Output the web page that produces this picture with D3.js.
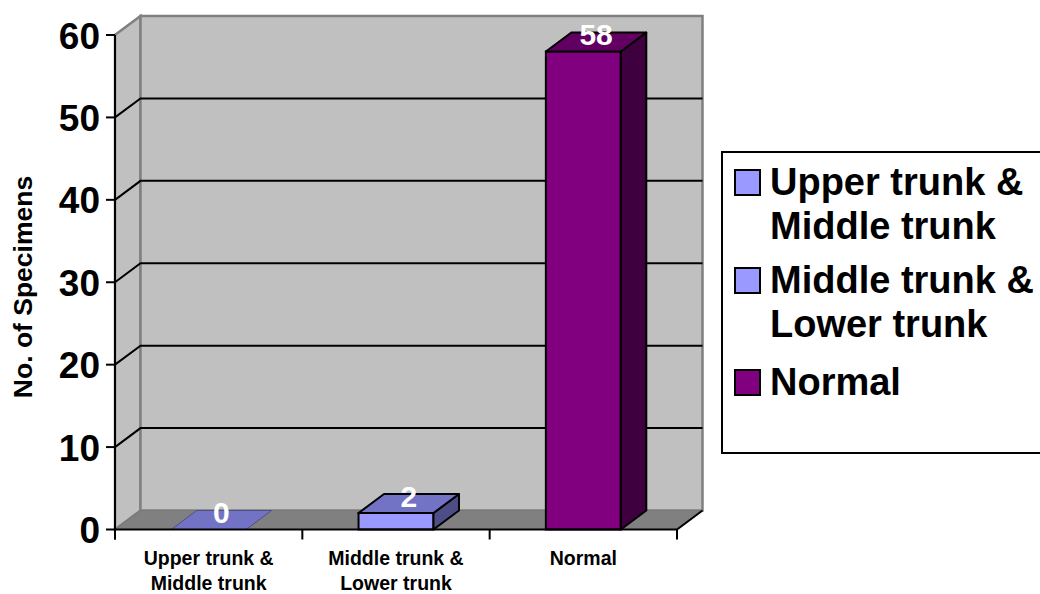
<!DOCTYPE html>
<html>
<head>
<meta charset="utf-8">
<script src="https://cdn.jsdelivr.net/npm/d3@7"></script>
<style>
    body { margin: 0; background: #fff; }
    text { font-family: Arial, "Liberation Sans", sans-serif; font-weight: bold; }
</style>
</head>
<body>
<script>
//data
var categories = ["Upper trunk & Middle trunk", "Middle trunk & Lower trunk", "Normal"];
var tickLabels = [["Upper trunk &", "Middle trunk"], ["Middle trunk &", "Lower trunk"], ["Normal"]];
var values = [0, 2, 58];
var yTicks = [0, 10, 20, 30, 40, 50, 60];
var legendLabels = [["Upper trunk &", "Middle trunk"], ["Middle trunk &", "Lower trunk"], ["Normal"]];
var yTitle = "No. of Specimens";

//colours: front, top, side
var fills = [
    ["#9999ff", "#7373c6", "#4d4d88"],
    ["#9999ff", "#7373c6", "#4d4d88"],
    ["#800080", "#620062", "#3f003f"]
];

var W = 1040, H = 594;
var m = { left: 115, right: 677, top: 35, bottom: 529.5 };
var dx = 25.5, dy = -19; //depth offset

//scales
var x = d3.scaleBand()
    .domain(d3.range(categories.length))
    .range([m.left, m.right])
    .paddingInner(0.6)
    .paddingOuter(0.3);
var y = d3.scaleLinear()
    .domain([0, 60])
    .range([m.bottom, m.top]);

var svg = d3.select("body")
    .append("svg")
    .attr("width", W)
    .attr("height", H);

function pts(a) {
    return a.map(function (p) { return p.join(","); }).join(" ");
}

var y0 = y(0), yTop = y(60);

//side wall
svg.append("polygon")
    .attr("points", pts([[m.left, y0], [m.left, yTop], [m.left + dx, yTop + dy], [m.left + dx, y0 + dy]]))
    .attr("fill", "#c0c0c0")
    .attr("stroke", "#808080")
    .attr("stroke-width", 2.5);

//back wall
svg.append("rect")
    .attr("x", m.left + dx)
    .attr("y", yTop + dy)
    .attr("width", m.right - m.left)
    .attr("height", y0 - yTop)
    .attr("fill", "#c0c0c0")
    .attr("stroke", "#808080")
    .attr("stroke-width", 2.5);

//floor
svg.append("polygon")
    .attr("points", pts([[m.left, y0], [m.right, y0], [m.right + dx, y0 + dy], [m.left + dx, y0 + dy]]))
    .attr("fill", "#808080")
    .attr("stroke", "#777")
    .attr("stroke-width", 1);

//gridlines
svg.append("g").selectAll(".grid")
    .data(yTicks.filter(function (d) { return d > 0 && d < 60; }))
    .enter().append("polyline")
    .attr("points", function (d) {
        return pts([[m.left, y(d)], [m.left + dx, y(d) + dy], [m.right + dx, y(d) + dy]]);
    })
    .attr("fill", "none")
    .attr("stroke", "#000")
    .attr("stroke-width", 2);

//bars
var bars = svg.append("g").selectAll(".bar")
    .data(values)
    .enter().append("g")
    .attr("class", "bar");

bars.each(function (v, i) {
    var g = d3.select(this);
    var x0 = x(i), w = x.bandwidth(), yt = y(v);
    if (v > 0) {
        g.append("rect")
            .attr("x", x0)
            .attr("y", yt)
            .attr("width", w)
            .attr("height", y0 - yt)
            .attr("fill", fills[i][0])
            .attr("stroke", "#000")
            .attr("stroke-width", 2);
        g.append("polygon")
            .attr("points", pts([[x0 + w, yt], [x0 + w, y0], [x0 + w + dx, y0 + dy], [x0 + w + dx, yt + dy]]))
            .attr("fill", fills[i][2])
            .attr("stroke", "#000")
            .attr("stroke-width", 2)
            .attr("stroke-linejoin", "round");
    }
    g.append("polygon")
        .attr("points", pts([[x0, yt], [x0 + w, yt], [x0 + w + dx, yt + dy], [x0 + dx, yt + dy]]))
        .attr("fill", fills[i][1])
        .attr("stroke", v > 0 ? "#000" : "#505080")
        .attr("stroke-width", v > 0 ? 2 : 1)
        .attr("stroke-linejoin", "round");
});

//value labels
svg.append("g").selectAll(".valueLabel")
    .data(values)
    .enter().append("text")
    .text(function (d) { return d; })
    .attr("x", function (d, i) { return x(i) + x.bandwidth() / 2 + dx / 2; })
    .attr("y", function (d) { return y(d) + dy + 12.5; })
    .attr("text-anchor", "middle")
    .attr("fill", "#fff")
    .style("font-size", "30px");

//y axis
svg.append("line")
    .attr("x1", m.left).attr("x2", m.left)
    .attr("y1", yTop).attr("y2", y0 + 10)
    .attr("stroke", "#000")
    .attr("stroke-width", 2);

svg.append("g").selectAll(".ytick")
    .data(yTicks)
    .enter().append("line")
    .attr("x1", m.left - 9).attr("x2", m.left)
    .attr("y1", function (d) { return y(d); })
    .attr("y2", function (d) { return y(d); })
    .attr("stroke", "#000")
    .attr("stroke-width", 2);

svg.append("g").selectAll(".ylabel")
    .data(yTicks)
    .enter().append("text")
    .text(function (d) { return d; })
    .attr("x", 100)
    .attr("y", function (d) { return y(d) + 13.5; })
    .attr("text-anchor", "end")
    .style("font-size", "37px");

svg.append("text")
    .text(yTitle)
    .attr("transform", "translate(32,287) rotate(-90)")
    .attr("text-anchor", "middle")
    .style("font-size", "26.5px");

//x axis
svg.append("polyline")
    .attr("points", pts([[m.left, y0], [m.right, y0], [m.right + dx, y0 + dy]]))
    .attr("fill", "none")
    .attr("stroke", "#000")
    .attr("stroke-width", 2);

svg.append("g").selectAll(".xtick")
    .data(d3.range(categories.length + 1))
    .enter().append("line")
    .attr("x1", function (d) { return m.left + d * (m.right - m.left) / categories.length; })
    .attr("x2", function (d) { return m.left + d * (m.right - m.left) / categories.length; })
    .attr("y1", y0)
    .attr("y2", y0 + 10)
    .attr("stroke", "#000")
    .attr("stroke-width", 2);

var xl = svg.append("g").selectAll(".xlabel")
    .data(tickLabels)
    .enter().append("text")
    .attr("x", function (d, i) { return x(i) + x.bandwidth() / 2; })
    .attr("y", 565)
    .attr("text-anchor", "middle")
    .style("font-size", "19.5px");

xl.selectAll("tspan")
    .data(function (d) { return d; })
    .enter().append("tspan")
    .attr("x", function () { return d3.select(this.parentNode).attr("x"); })
    .attr("dy", function (d, i) { return i === 0 ? 0 : 25; })
    .text(function (d) { return d; });

//legend
svg.append("rect")
    .attr("x", 722)
    .attr("y", 152)
    .attr("width", 330)
    .attr("height", 301)
    .attr("fill", "#fff")
    .attr("stroke", "#000")
    .attr("stroke-width", 2);

var legendY = [195, 293, 395];
var lg = svg.append("g").selectAll(".legendItem")
    .data(legendLabels)
    .enter().append("g")
    .attr("transform", function (d, i) { return "translate(0," + legendY[i] + ")"; });

lg.append("rect")
    .attr("x", 735)
    .attr("y", -25)
    .attr("width", 25)
    .attr("height", 25)
    .attr("fill", function (d, i) { return fills[i][0]; })
    .attr("stroke", "#000")
    .attr("stroke-width", 2);

lg.append("text")
    .style("font-size", "38px")
    .selectAll("tspan")
    .data(function (d) { return d; })
    .enter().append("tspan")
    .attr("x", 770)
    .attr("y", function (d, i) { return i * 44; })
    .text(function (d) { return d; });
</script>
</body>
</html>
